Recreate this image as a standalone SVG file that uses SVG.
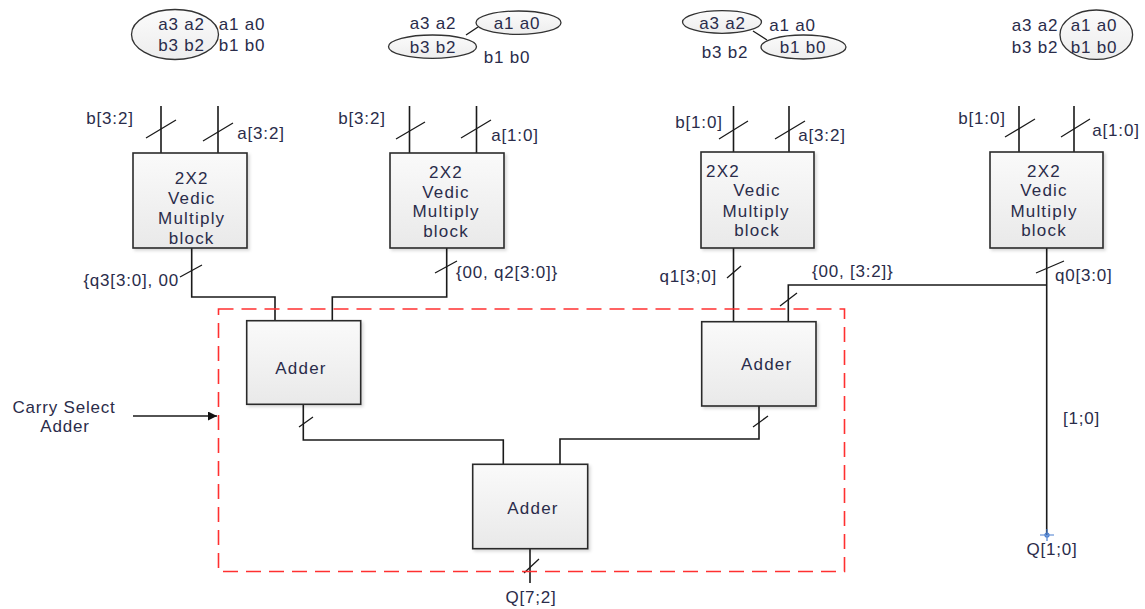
<svg xmlns="http://www.w3.org/2000/svg" width="1145" height="609" viewBox="0 0 1145 609">
<defs>
<linearGradient id="bg" x1="0" y1="0" x2="0" y2="1"><stop offset="0" stop-color="#fafafa"/><stop offset="1" stop-color="#e9e9e9"/></linearGradient>
<linearGradient id="eg" x1="0" y1="0" x2="0" y2="1"><stop offset="0" stop-color="#fbfbfb"/><stop offset="1" stop-color="#ededed"/></linearGradient>
<marker id="arr" viewBox="0 0 10 10" refX="10" refY="5" markerWidth="9" markerHeight="9" markerUnits="userSpaceOnUse" orient="auto"><path d="M0,0 L10,5 L0,10 z" fill="#111"/></marker>
<filter id="sh" x="-10%" y="-10%" width="130%" height="130%"><feDropShadow dx="2" dy="2" stdDeviation="1.5" flood-color="#000" flood-opacity="0.15"/></filter>
</defs>
<style>
text{font-family:"Liberation Sans",Arial,sans-serif;font-size:17px;fill:#2a2c4a;letter-spacing:0.8px}
.m{text-anchor:middle}
.e{text-anchor:end}
.box{fill:url(#bg);stroke:#2a2a2a;stroke-width:1.6;filter:url(#sh)}
.ell{fill:url(#eg);stroke:#333;stroke-width:1.3}
.w{fill:none;stroke:#1a1a1a;stroke-width:1.6}
.s{fill:none;stroke:#1a1a1a;stroke-width:1.3}
.bt{letter-spacing:1.2px}
</style>

<g id="groupings">
<g id="grp1">
<ellipse class="ell" cx="175" cy="34.5" rx="43.5" ry="25"/>
<text class="m" x="181.5" y="30">a3 a2</text><text class="m" x="242" y="30">a1 a0</text>
<text class="m" x="181.5" y="51">b3 b2</text><text class="m" x="242" y="51">b1 b0</text>
</g>
<g id="grp2">
<line class="s" x1="466" y1="35" x2="478" y2="27"/>
<ellipse class="ell" cx="518.5" cy="22.7" rx="42.5" ry="11.7"/>
<ellipse class="ell" cx="432.5" cy="46.7" rx="44" ry="11.7"/>
<text class="m" x="433" y="29">a3 a2</text><text class="m" x="517" y="29">a1 a0</text>
<text class="m" x="433" y="53">b3 b2</text><text class="m" x="507" y="63">b1 b0</text>
</g>
<g id="grp3">
<line class="s" x1="753" y1="31" x2="767" y2="40"/>
<ellipse class="ell" cx="722" cy="22" rx="39.5" ry="11.3"/>
<ellipse class="ell" cx="803.5" cy="47" rx="42.5" ry="12"/>
<text class="m" x="722.5" y="29">a3 a2</text><text class="m" x="792.5" y="31">a1 a0</text>
<text class="m" x="803" y="53">b1 b0</text><text class="m" x="725" y="58">b3 b2</text>
</g>
<g id="grp4">
<ellipse class="ell" cx="1096.3" cy="34.7" rx="36.3" ry="24.7"/>
<text class="m" x="1035" y="31">a3 a2</text><text class="m" x="1094" y="31">a1 a0</text>
<text class="m" x="1035" y="53">b3 b2</text><text class="m" x="1094" y="53">b1 b0</text>
</g>
</g>

<g id="connectors">
<path class="w" d="M161,106 V153 M218,106 V153 M409.5,106 V153 M476.5,106 V153 M733.5,106 V152 M789,106 V152 M1019,106 V152 M1074,106 V152"/>
<path class="s" d="M146,138 L176,120 M203,141 L233,123 M396,139 L425,122 M461,138 L491,120 M719,139 L748,121 M775,139 L805,121 M1005,137 L1035,119 M1061,137 L1090,119"/>
<path class="w" d="M191.7,248 V297 H275 V321"/>
<path class="w" d="M446.7,248 V297 H332.3 V321"/>
<path class="w" d="M733.5,248 V322"/>
<path class="w" d="M1046.7,248 V535 M1046.7,285 H788.3 V322"/>
<path class="s" d="M180,277 L202,265 M435,273 L457,261 M727,278 L741,266 M1036,273 L1064,261 M780,306 L797,293"/>
<path class="w" d="M303.3,404 V440 H503.3 V464"/>
<path class="w" d="M759,406 V439 H560 V464"/>
<path class="w" d="M530,549 V583"/>
<path class="s" d="M299,427 L313,417 M753,427 L768,416 M524,573 L539,559"/>
<line class="w" x1="133" y1="416" x2="217" y2="416" marker-end="url(#arr)"/>
<g stroke="#4a7fd0" stroke-width="1.2" fill="none"><circle cx="1047" cy="535" r="2"/><path d="M1040,535 H1054 M1047,529 V541"/></g>
</g>

<g id="csa-boundary">
<rect x="218.5" y="309" width="626" height="262.5" fill="none" stroke="#ff3030" stroke-width="1.6" stroke-dasharray="15 8"/>
</g>

<g id="vm1">
<rect class="box" x="133" y="153" width="114" height="95"/>
<text class="m bt" x="191.7" y="184">2X2</text><text class="m bt" x="191.7" y="204">Vedic</text><text class="m bt" x="191.7" y="224">Multiply</text><text class="m bt" x="191.7" y="244">block</text>
</g>
<g id="vm2">
<rect class="box" x="390" y="153" width="114" height="95"/>
<text class="m bt" x="446" y="178">2X2</text><text class="m bt" x="446" y="198">Vedic</text><text class="m bt" x="446" y="217">Multiply</text><text class="m bt" x="446" y="237">block</text>
</g>
<g id="vm3">
<rect class="box" x="701" y="152" width="113" height="96"/>
<text class="bt" x="706" y="177">2X2</text><text class="m bt" x="757" y="196">Vedic</text><text class="m bt" x="756" y="217">Multiply</text><text class="m bt" x="757" y="236">block</text>
</g>
<g id="vm4">
<rect class="box" x="990" y="152" width="113" height="96"/>
<text class="m bt" x="1044" y="177">2X2</text><text class="m bt" x="1044" y="196">Vedic</text><text class="m bt" x="1044" y="217">Multiply</text><text class="m bt" x="1044" y="236">block</text>
</g>
<g id="adder1">
<rect class="box" x="246.7" y="320.7" width="114" height="83.6"/>
<text class="m bt" x="301" y="374">Adder</text>
</g>
<g id="adder2">
<rect class="box" x="701.7" y="321.7" width="114.3" height="84.3"/>
<text class="m bt" x="766.7" y="370">Adder</text>
</g>
<g id="adder3">
<rect class="box" x="472.7" y="464.3" width="115" height="84.4"/>
<text class="m bt" x="533" y="514">Adder</text>
</g>

<g id="labels">
<text class="m" x="110" y="124">b[3:2]</text><text class="m" x="261" y="139">a[3:2]</text>
<text class="m" x="362" y="124">b[3:2]</text><text class="m" x="515" y="141">a[1:0]</text>
<text class="m" x="699" y="128">b[1:0]</text><text class="m" x="822" y="141">a[3:2]</text>
<text class="m" x="982" y="124">b[1:0]</text><text class="m" x="1116" y="136">a[1:0]</text>
<text class="e" x="179" y="286">{q3[3:0], 00</text>
<text x="456" y="278">{00, q2[3:0]}</text>
<text class="e" x="717" y="282">q1[3;0]</text>
<text x="812" y="277">{00, [3:2]}</text>
<text x="1055" y="281">q0[3:0]</text>
<text x="1063" y="424">[1;0]</text>
<text class="m" x="1052" y="555">Q[1;0]</text>
<text class="m" x="531" y="603">Q[7;2]</text>
<text class="m" x="64" y="413">Carry Select</text>
<text class="m" x="65" y="432">Adder</text>
</g>
</svg>
